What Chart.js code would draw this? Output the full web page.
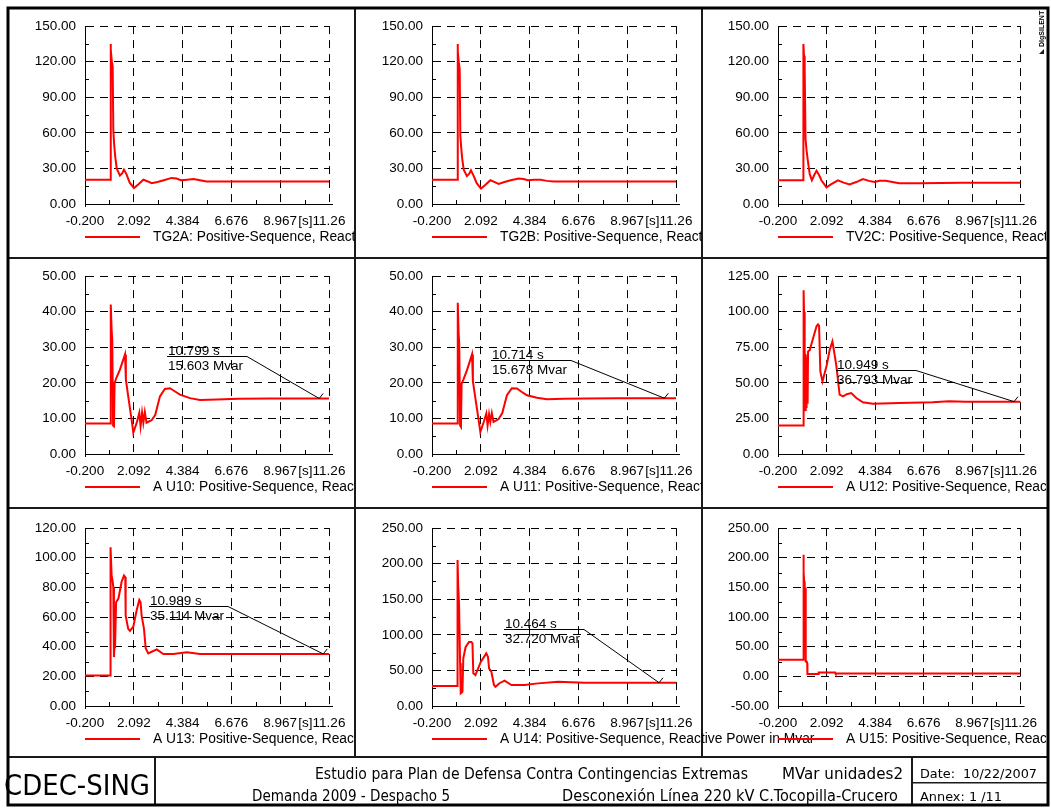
<!DOCTYPE html>
<html>
<head>
<meta charset="utf-8">
<title>MVar unidades2</title>
<script src="https://cdn.jsdelivr.net/npm/chart.js@4.4.1/dist/chart.umd.min.js"></script>
<style>
  html, body { margin: 0; padding: 0; background: #fff; }
  #sheet { position: relative; width: 1051px; height: 809px; overflow: hidden; background: #fff; }
  #sheet canvas { position: absolute; }
</style>
</head>
<body>
<div id="sheet">
  <canvas id="frame" width="1051" height="809" style="left:0;top:0"></canvas>
</div>
<script>
// ---- time axis shared by every panel ----
const timeTicks = [-0.2, 2.092, 4.384, 6.676, 8.967, 11.26];
const timeTickLabels = ['-0.200', '2.092', '4.384', '6.676', '8.967', '11.26'];
const timeUnit = '[s]';

// ---- value axes ----
const yTicksTurbines = [0, 30, 60, 90, 120, 150];
const yTicksU10 = [0, 10, 20, 30, 40, 50];
const yTicksU12 = [0, 25, 50, 75, 100, 125];
const yTicksU13 = [0, 20, 40, 60, 80, 100, 120];
const yTicksU14 = [0, 50, 100, 150, 200, 250];
const yTicksU15 = [-50, 0, 50, 100, 150, 200, 250];

const quantityName = 'Positive-Sequence, Reactive Power in Mvar';

// ---- simulated reactive power per unit (time in s, Mvar) ----
const tg2aTime = [-0.2, 0.99, 1.0, 1.02, 1.06, 1.1, 1.13, 1.17, 1.22, 1.29, 1.44, 1.55, 1.63, 1.75, 1.9, 2.1, 2.3, 2.54, 2.75, 2.93, 3.2, 3.5, 3.87, 4.1, 4.3, 4.6, 4.9, 5.2, 5.52, 6.5, 8.0, 9.5, 11.26];
const tg2aMvar = [20.5, 20.5, 135, 130, 120, 116, 62, 50, 40, 30, 24, 26, 29, 25, 18, 13.5, 16.5, 20.5, 19, 17.5, 18.5, 20, 22, 21.5, 20, 20.5, 21, 20, 19, 19, 19, 19, 19];

const tg2bTime = [-0.2, 0.99, 1.0, 1.02, 1.06, 1.1, 1.13, 1.17, 1.22, 1.29, 1.44, 1.55, 1.63, 1.75, 1.9, 2.1, 2.3, 2.54, 2.75, 2.93, 3.2, 3.5, 3.87, 4.1, 4.3, 4.6, 4.9, 5.2, 5.52, 6.5, 8.0, 9.5, 11.26];
const tg2bMvar = [20.5, 20.5, 135, 129, 119, 114, 58, 48, 38, 29, 23.5, 25.5, 28.5, 24, 17.5, 13, 16, 20, 18.5, 17, 18.5, 20, 21.5, 21, 20, 20.5, 20.5, 19.5, 19, 19, 19, 19, 19];

const tv2cTime = [-0.2, 0.99, 1.0, 1.03, 1.06, 1.1, 1.15, 1.22, 1.3, 1.4, 1.5, 1.62, 1.75, 1.85, 2.09, 2.3, 2.63, 2.9, 3.18, 3.5, 3.81, 4.1, 4.36, 4.6, 4.9, 5.2, 5.53, 6.5, 7.5, 8.5, 9.5, 11.26];
const tv2cMvar = [20, 20, 135, 125, 115, 55, 45, 35, 25, 20, 24, 28, 24, 20, 14, 16.5, 20, 18, 16.5, 18.5, 21, 19.5, 18.5, 19.5, 19.5, 18.5, 17.5, 17.5, 17.8, 18, 18, 18];

const u10Time = [-0.2, 1.0, 1.01, 1.05, 1.08, 1.12, 1.16, 1.19, 1.28, 1.44, 1.68, 1.72, 1.83, 1.99, 2.07, 2.23, 2.35, 2.41, 2.48, 2.54, 2.61, 2.69, 2.93, 3.1, 3.32, 3.55, 3.79, 4.05, 4.26, 4.73, 5.2, 6.0, 7.0, 8.5, 10.0, 10.799, 11.26];
const u10Mvar = [8.6, 8.6, 42, 35, 32, 8, 7.8, 20, 21.5, 23.7, 28, 20.9, 16.2, 9.6, 6, 8.8, 11.6, 7.8, 11.6, 8.8, 11.8, 8.8, 9.5, 11, 16.2, 18.3, 18.5, 17.5, 16.7, 15.7, 15.2, 15.3, 15.5, 15.6, 15.6, 15.603, 15.6];

const u11Time = [-0.2, 1.0, 1.01, 1.05, 1.08, 1.12, 1.16, 1.19, 1.28, 1.44, 1.68, 1.72, 1.83, 1.99, 2.07, 2.23, 2.35, 2.41, 2.48, 2.54, 2.61, 2.69, 2.93, 3.1, 3.32, 3.55, 3.79, 4.05, 4.26, 4.73, 5.2, 6.0, 7.0, 8.5, 10.0, 10.714, 11.26];
const u11Mvar = [8.6, 8.6, 42.5, 34, 31, 8, 7.6, 19.7, 21, 23.5, 28, 20.5, 16, 9.5, 6.2, 9, 11.4, 8, 11.2, 9, 11.5, 9, 9.8, 11.5, 16.5, 18.5, 18.4, 17.3, 16.5, 15.8, 15.4, 15.5, 15.6, 15.7, 15.68, 15.678, 15.68];

const u12Time = [-0.2, 1.0, 1.01, 1.03, 1.05, 1.07, 1.09, 1.11, 1.13, 1.15, 1.17, 1.2, 1.22, 1.3, 1.46, 1.62, 1.69, 1.74, 1.8, 1.9, 2.09, 2.24, 2.37, 2.45, 2.56, 2.71, 2.87, 3.05, 3.26, 3.5, 3.81, 4.28, 5.53, 7.1, 7.88, 8.66, 10.949, 11.26];
const u12Mvar = [20, 20, 115, 100, 30, 72, 31, 70, 33, 68, 36, 38, 72, 73, 81.5, 89.7, 91, 90, 58, 51, 61.6, 73, 79, 72, 61.6, 41.7, 40.5, 42, 42.8, 39.3, 36.3, 35.3, 35.8, 36.3, 37, 36.8, 36.793, 36.8];

const u13Time = [-0.2, 0.99, 1.0, 1.05, 1.1, 1.13, 1.16, 1.19, 1.21, 1.26, 1.37, 1.52, 1.63, 1.69, 1.71, 1.83, 1.91, 2.07, 2.23, 2.35, 2.41, 2.46, 2.57, 2.65, 2.77, 2.93, 3.17, 3.48, 3.95, 4.58, 5.2, 7.0, 9.0, 10.989, 11.26];
const u13Mvar = [20.5, 20.5, 107, 88, 84, 80, 33, 42, 39, 70, 72.5, 83.8, 88, 87, 61, 52, 50.6, 53.5, 64.7, 71.5, 70, 61, 52, 39, 35.5, 36.6, 38.2, 35, 35, 36.2, 35, 35.1, 35.1, 35.114, 35.1];

const u14Time = [-0.2, 0.99, 1.0, 1.03, 1.07, 1.12, 1.15, 1.23, 1.27, 1.38, 1.54, 1.65, 1.7, 1.74, 1.84, 2.09, 2.35, 2.43, 2.48, 2.59, 2.71, 2.78, 2.97, 3.21, 3.53, 4.15, 4.78, 5.72, 6.97, 8.5, 10.464, 11.26];
const u14Mvar = [28, 28, 205, 170, 142, 60, 17.8, 20, 67, 83, 90, 90, 88, 46, 43.5, 62, 74, 69, 53, 48, 29.5, 27, 32, 35.6, 29.5, 29.5, 31.8, 34, 32.8, 32.7, 32.72, 32.7];

const u15Time = [-0.2, 0.99, 1.0, 1.02, 1.04, 1.06, 1.08, 1.1, 1.12, 1.15, 1.18, 1.19, 1.7, 1.72, 2.5, 2.52, 11.26];
const u15Mvar = [28, 28, 205, 175, 160, 140, 150, 130, 25, 25, 22, 4, 4, 6.5, 6.5, 5, 5];

// ---- cursor readouts (time s, Mvar) ----
const readoutU10 = [10.799, 15.603];
const readoutU11 = [10.714, 15.678];
const readoutU12 = [10.949, 36.793];
const readoutU13 = [10.989, 35.114];
const readoutU14 = [10.464, 32.720];

// ---- page geometry ----
const FONT_FAMILY = "'Liberation Sans', Arial, Helvetica, sans-serif";
const FONT_SIZE = 13.5;
const LEGEND_FONT_SIZE = 13.8;
const X_LABEL_PAD = 9;
const PLOT_W = 244, PLOT_H = 178, AXIS_W = 76, TOP_PAD = 17, X_AXIS_H = 30, PANEL_H = 248;
const colLeft = [9, 356, 702];
const colWidth = [346, 346, 344];
const rowTop = [9, 259, 511];

const panels = [
  { name: 'TG2A',  time: tg2aTime, mvar: tg2aMvar, yTicks: yTicksTurbines, col: 0, row: 0 },
  { name: 'TG2B',  time: tg2bTime, mvar: tg2bMvar, yTicks: yTicksTurbines, col: 1, row: 0 },
  { name: 'TV2C',  time: tv2cTime, mvar: tv2cMvar, yTicks: yTicksTurbines, col: 2, row: 0 },
  { name: 'A U10', time: u10Time,  mvar: u10Mvar,  yTicks: yTicksU10, col: 0, row: 1, readout: readoutU10, labelAt: { t: 3.65, v: 27.6 } },
  { name: 'A U11', time: u11Time,  mvar: u11Mvar,  yTicks: yTicksU10, col: 1, row: 1, readout: readoutU11, labelAt: { t: 2.57, v: 26.3 } },
  { name: 'A U12', time: u12Time,  mvar: u12Mvar,  yTicks: yTicksU12, col: 2, row: 1, readout: readoutU12, labelAt: { t: 2.56, v: 59.2 } },
  { name: 'A U13', time: u13Time,  mvar: u13Mvar,  yTicks: yTicksU13, col: 0, row: 2, readout: readoutU13, labelAt: { t: 2.82, v: 67.4 } },
  { name: 'A U14', time: u14Time,  mvar: u14Mvar,  yTicks: yTicksU14, col: 1, row: 2, readout: readoutU14, labelAt: { t: 3.20, v: 108.1 }, wideLegend: true },
  { name: 'A U15', time: u15Time,  mvar: u15Mvar,  yTicks: yTicksU15, col: 2, row: 2 }
];

Chart.defaults.font.family = FONT_FAMILY;
Chart.defaults.font.size = FONT_SIZE;
Chart.defaults.color = '#000';

// Minor ticks, unit label, legend line and cursor readout for one panel
const panelDecor = {
  id: 'panelDecor',
  afterDraw(chart, args, opts) {
    const { ctx, chartArea: a, scales: { x, y } } = chart;
    const font = FONT_SIZE + 'px ' + FONT_FAMILY;
    ctx.save();

    // minor ticks inside the plot, halfway between labelled ticks
    ctx.strokeStyle = '#000';
    ctx.lineWidth = 1;
    ctx.beginPath();
    for (let i = 0; i < timeTicks.length - 1; i++) {
      const px = Math.round(x.getPixelForValue((timeTicks[i] + timeTicks[i + 1]) / 2)) + 0.5;
      ctx.moveTo(px, a.bottom);
      ctx.lineTo(px, a.bottom - 4);
    }
    const yt = opts.yTicks;
    for (let i = 0; i < yt.length - 1; i++) {
      const py = Math.round(y.getPixelForValue((yt[i] + yt[i + 1]) / 2)) + 0.5;
      ctx.moveTo(a.left, py);
      ctx.lineTo(a.left + 4, py);
    }
    // axis overrun at the corners
    const by = Math.round(a.bottom) + 0.5;
    ctx.moveTo(a.right, by); ctx.lineTo(a.right + 4, by);
    const lxAxis = Math.round(a.left) + 0.5;
    ctx.moveTo(lxAxis, a.bottom); ctx.lineTo(lxAxis, a.bottom + 3);
    ctx.stroke();

    // time unit in front of the last tick label
    ctx.font = font;
    ctx.fillStyle = '#000';
    ctx.textBaseline = 'middle';
    ctx.textAlign = 'right';
    const last = timeTicks.length - 1;
    const lastX = x.getPixelForValue(timeTicks[last]);
    const lastW = ctx.measureText(timeTickLabels[last]).width;
    ctx.fillText(timeUnit, lastX - lastW / 2, a.bottom + X_LABEL_PAD + FONT_SIZE * 0.6);

    // legend entry
    const ly = a.bottom + 33;
    ctx.strokeStyle = '#ff0000';
    ctx.lineWidth = 1.8;
    ctx.beginPath();
    ctx.moveTo(a.left, ly);
    ctx.lineTo(a.left + 55, ly);
    ctx.stroke();
    ctx.textAlign = 'left';
    ctx.font = LEGEND_FONT_SIZE + 'px ' + FONT_FAMILY;
    ctx.fillText(opts.legendText, a.left + 68, ly);
    ctx.font = font;

    // cursor readout with leader line to the marked sample
    if (opts.readout) {
      const [rt, rv] = opts.readout;
      const px = x.getPixelForValue(rt), py = y.getPixelForValue(rv);
      const lx = Math.round(x.getPixelForValue(opts.labelAt.t));
      const lyy = Math.round(y.getPixelForValue(opts.labelAt.v)) + 0.5;
      const l1 = rt.toFixed(3) + ' s';
      const l2 = rv.toFixed(3) + ' Mvar';
      const tw = Math.max(ctx.measureText(l1).width, ctx.measureText(l2).width) + 5;
      ctx.strokeStyle = '#000';
      ctx.lineWidth = 1;
      ctx.beginPath();
      ctx.moveTo(lx, lyy);
      ctx.lineTo(lx + tw, lyy);
      ctx.lineTo(px, py);
      ctx.moveTo(px, py);
      ctx.lineTo(px + 4, py - 5);
      ctx.stroke();
      ctx.textBaseline = 'alphabetic';
      ctx.fillText(l1, lx + 1, lyy - 2);
      ctx.fillText(l2, lx + 1, lyy + 13);
    }
    ctx.restore();
  }
};

const sheet = document.getElementById('sheet');

function buildPanel(p) {
  const cv = document.createElement('canvas');
  const w = p.wideLegend ? colWidth[1] + colWidth[2] : colWidth[p.col];
  const h = PANEL_H;
  cv.width = w;
  cv.height = h;
  cv.style.left = colLeft[p.col] + 'px';
  cv.style.top = rowTop[p.row] + 'px';
  sheet.appendChild(cv);

  const gridStyle = { color: '#000', lineWidth: 1, drawTicks: false };
  const borderStyle = { display: true, color: '#000', width: 1, dash: [8, 6] };

  new Chart(cv, {
    type: 'line',
    data: {
      datasets: [{
        label: p.name + ': ' + quantityName,
        data: p.time.map((t, i) => ({ x: t, y: p.mvar[i] })),
        borderColor: '#ff0000',
        borderWidth: 2,
        pointRadius: 0,
        tension: 0,
        fill: false
      }]
    },
    options: {
      responsive: false,
      animation: false,
      devicePixelRatio: 1,
      events: [],
      layout: {
        padding: { left: 0, top: TOP_PAD, right: w - AXIS_W - PLOT_W, bottom: h - TOP_PAD - PLOT_H - X_AXIS_H }
      },
      plugins: {
        legend: { display: false },
        tooltip: { enabled: false },
        panelDecor: {
          yTicks: p.yTicks,
          legendText: p.name + ': ' + quantityName,
          readout: p.readout || null,
          labelAt: p.labelAt || null
        }
      },
      scales: {
        x: {
          type: 'linear',
          min: timeTicks[0],
          max: timeTicks[timeTicks.length - 1],
          afterBuildTicks: s => { s.ticks = timeTicks.map(v => ({ value: v })); },
          afterFit: s => { s.height = X_AXIS_H; },
          ticks: { autoSkip: false, maxRotation: 0, minRotation: 0, padding: X_LABEL_PAD, callback: (v, i) => timeTickLabels[i] },
          grid: gridStyle,
          border: borderStyle
        },
        y: {
          type: 'linear',
          min: p.yTicks[0],
          max: p.yTicks[p.yTicks.length - 1],
          afterBuildTicks: s => { s.ticks = p.yTicks.map(v => ({ value: v })); },
          afterFit: s => { s.width = AXIS_W; },
          ticks: { autoSkip: false, padding: 9, callback: v => Number(v).toFixed(2) },
          grid: gridStyle,
          border: borderStyle
        }
      }
    },
    plugins: [panelDecor]
  });
}

// ---- sheet frame, title block and logo ----
function fitText(ctx, text, x, baseline, width, font) {
  ctx.save();
  ctx.font = font;
  const m = ctx.measureText(text).width;
  ctx.translate(x, baseline);
  ctx.scale(width / m, 1);
  ctx.textAlign = 'left';
  ctx.textBaseline = 'alphabetic';
  ctx.fillText(text, 0, 0);
  ctx.restore();
}

function drawSheet() {
  const fc = document.getElementById('frame').getContext('2d');
  fc.fillStyle = '#fff';
  fc.fillRect(0, 0, 1051, 809);

  const narrow = "'Liberation Sans Narrow', 'DejaVu Sans Condensed', 'Liberation Sans', sans-serif";
  fc.fillStyle = '#000';
  fitText(fc, 'CDEC-SING', 4, 795, 146, '28px ' + narrow);
  fitText(fc, 'Estudio para Plan de Defensa Contra Contingencias Extremas', 315, 779, 433, '15px ' + narrow);
  fitText(fc, 'MVar unidades2', 782, 779, 121, '15px ' + narrow);
  fitText(fc, 'Date:  10/22/2007', 920, 778, 117, '13px ' + narrow);
  fitText(fc, 'Demanda 2009 - Despacho 5', 252, 801, 198, '15px ' + narrow);
  fitText(fc, 'Desconexión Línea 220 kV C.Tocopilla-Crucero', 562, 801, 336, '15px ' + narrow);
  fitText(fc, 'Annex: 1 /11', 920, 801, 82, '13px ' + narrow);

  // cell dividers
  fc.fillStyle = '#1a1a1a';
  fc.fillRect(354, 8, 2, 750);
  fc.fillRect(701, 8, 2, 750);
  fc.fillRect(8, 257, 1041, 2);
  fc.fillRect(8, 507, 1041, 2);
  fc.fillRect(8, 756, 1041, 2);
  // title block dividers
  fc.fillRect(154, 757, 2, 49);
  fc.fillRect(911, 757, 2, 49);
  fc.fillRect(912, 782, 136, 1.5);

  // outer frame
  fc.strokeStyle = '#000';
  fc.lineWidth = 3;
  fc.strokeRect(8, 8, 1040, 797);

  // logo
  fc.save();
  fc.fillStyle = '#000';
  fc.translate(1042, 47);
  fc.rotate(-Math.PI / 2);
  fc.font = "bold 7px 'Liberation Sans', Arial, sans-serif";
  fc.textAlign = 'left';
  fc.textBaseline = 'middle';
  fc.fillText('DIgSILENT', 0, 0);
  fc.restore();
  fc.beginPath();
  fc.moveTo(1044, 49);
  fc.lineTo(1044, 54);
  fc.lineTo(1039, 54);
  fc.closePath();
  fc.fill();
}

drawSheet();
panels.forEach(buildPanel);
</script>
</body>
</html>
